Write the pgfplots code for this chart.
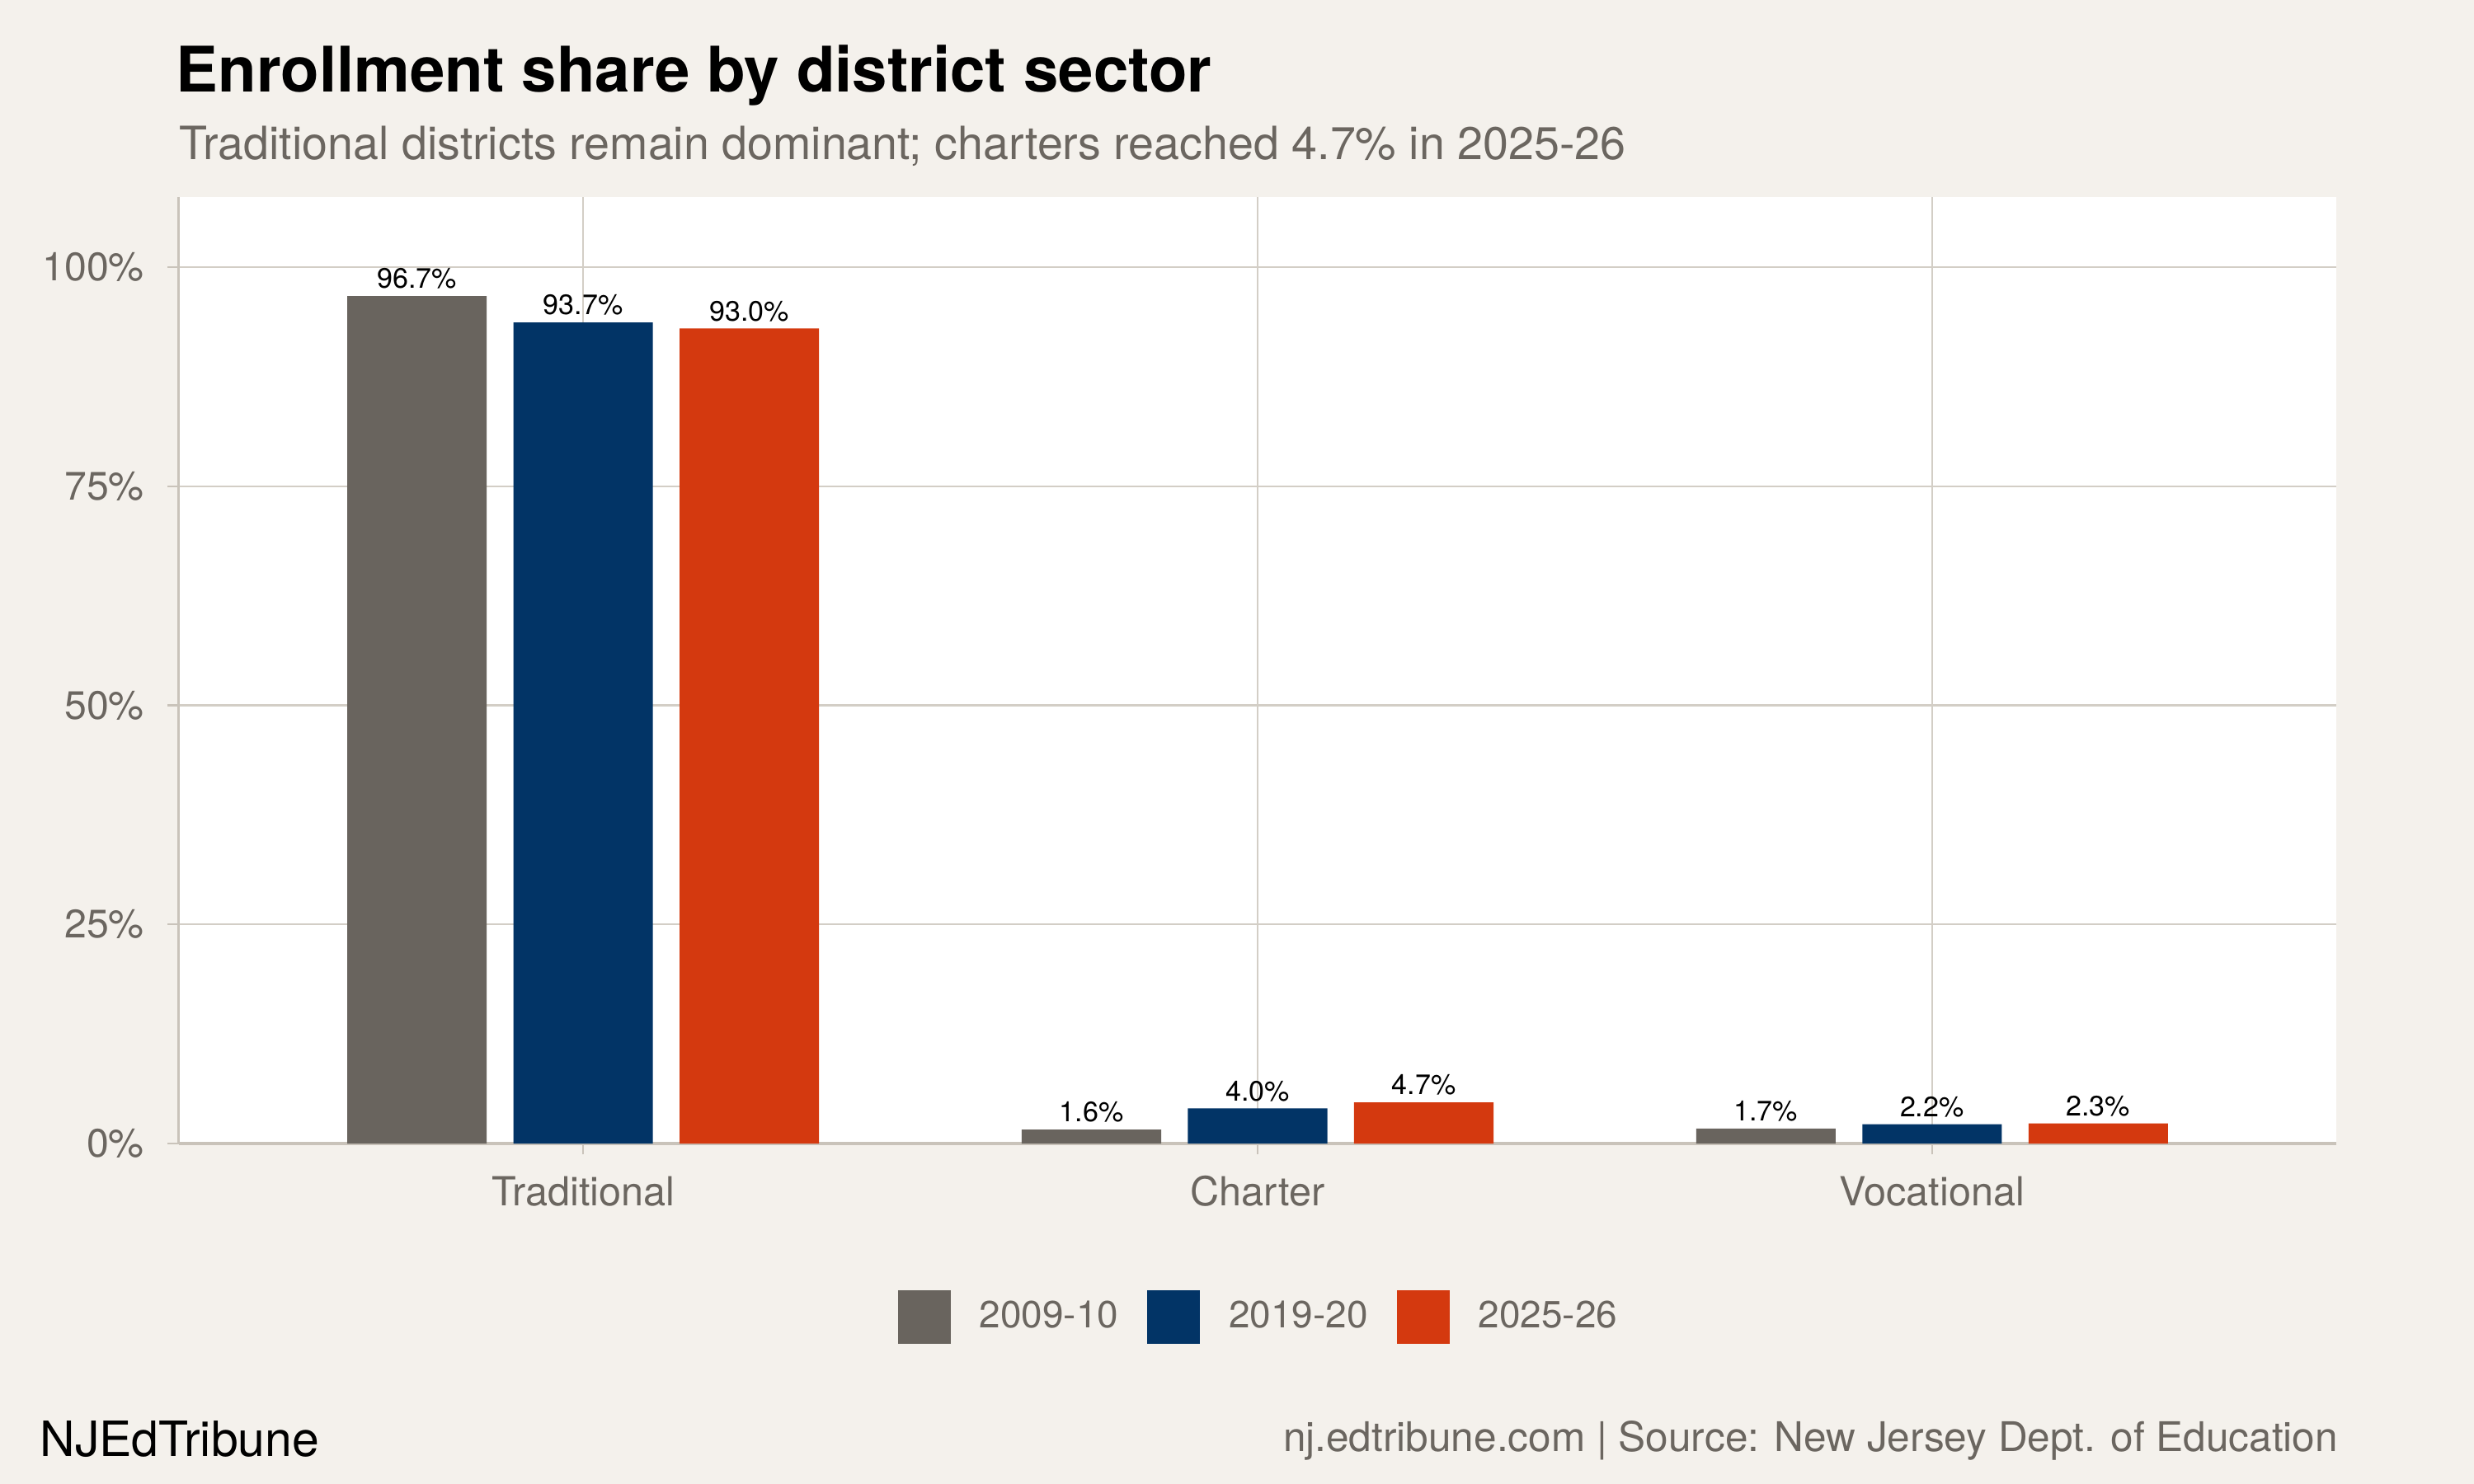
\documentclass[border=0pt]{standalone}
\usepackage{fontspec}
\setmainfont{TeX Gyre Heros}
\usepackage{pgfplots}
\usepackage{pgfplotstable}
\pgfplotsset{compat=1.18}

\definecolor{bg}{HTML}{F4F1EC}
\definecolor{gridc}{HTML}{D3CEC6}
\definecolor{axisc}{HTML}{C9C3BA}
\definecolor{inkgray}{HTML}{6B6660}
\definecolor{c2009}{HTML}{69645E}
\definecolor{c2019}{HTML}{023466}
\definecolor{c2025}{HTML}{D4390F}

% enrollment share (%) by sector and school year
\pgfplotstableread{
x y2009 y2019 y2025
0 96.7  93.7  93.0
1 1.6   4.0   4.7
2 1.7   2.2   2.3
}\shares

\pgfplotsset{
  sqlegend/.style={legend image code/.code={\fill[##1] (0pt,-8.4pt) rectangle (16.7pt,8.4pt);}},
}

\begin{document}
\begin{tikzpicture}
\fill[bg] (0,0) rectangle (784pt,-470.4pt);
\path[use as bounding box] (0,0) rectangle (784pt,-470.4pt);

\node[anchor=base west, inner sep=0pt, font=\fontsize{19.91}{22}\selectfont\bfseries]
  at (55.66pt,-29.27pt) {Enrollment share by district sector};
\node[anchor=base west, inner sep=0pt, text=inkgray, font=\fontsize{14.53}{17}\selectfont]
  at (56.63pt,-50.44pt) {Traditional districts remain dominant; charters reached 4.7\% in 2025-26};

\begin{axis}[
  at={(56.58pt,-362.47pt)}, anchor=south west,
  scale only axis, width=683.9pt, height=300pt,
  ybar, bar width=0.2067,
  xmin=-0.6, xmax=2.6, ymin=0, ymax=108,
  xtick={0,1,2}, xticklabels={Traditional,Charter,Vocational},
  ytick={0,25,50,75,100}, yticklabels={0\%,25\%,50\%,75\%,100\%},
  axis x line*=bottom, axis y line*=left,
  axis line style={axisc, line width=0.85pt, -},
  axis background/.style={fill=white},
  grid=major, major grid style={gridc, line width=0.6pt},
  tick align=outside, major tick length=3.5pt,
  tick style={axisc, line width=0.6pt},
  xticklabel style={anchor=base, inner sep=0pt, yshift=-16.2pt,
    font=\fontsize{12.7}{14}\selectfont, text=inkgray},
  yticklabel style={anchor=east, inner sep=0pt, xshift=-7.2pt,
    font=\fontsize{12.6}{14}\selectfont, text=inkgray},
  /pgf/number format/assume math mode=true,
  nodes near coords={\pgfmathprintnumber[fixed,fixed zerofill,precision=1]{\pgfplotspointmeta}\%},
  every node near coord/.append style={anchor=base, yshift=2.4pt, inner sep=0pt,
    font=\fontsize{8.9}{10}\selectfont, text=black},
  clip=false,
  legend columns=3,
  legend style={at={(0.5,-0.1834)}, anchor=center, draw=none, fill=none,
    font=\fontsize{12}{14}\selectfont, text=inkgray,
    nodes={inner sep=0pt},
    /tikz/every odd column/.append style={column sep=9.15pt},
    /tikz/every even column/.append style={column sep=9.15pt}},
]
\addplot[bar shift=-0.2464, fill=c2009, draw=none, sqlegend] table[x=x, y=y2009] {\shares};
\addlegendentry{2009-10}
\addplot[bar shift=0, fill=c2019, draw=none, sqlegend] table[x=x, y=y2019] {\shares};
\addlegendentry{2019-20}
\addplot[bar shift=0.2464, fill=c2025, draw=none, sqlegend] table[x=x, y=y2025] {\shares};
\addlegendentry{2025-26}
\end{axis}

\node[anchor=base west, inner sep=0pt, font=\fontsize{15.4}{17}\selectfont]
  at (12.47pt,-461.7pt) {NJEdTribune};
\node[anchor=base east, inner sep=0pt, text=inkgray, font=\fontsize{12.95}{15}\selectfont]
  at (741.1pt,-460.2pt) {nj.edtribune.com | Source: New Jersey Dept. of Education};
\end{tikzpicture}
\end{document}
